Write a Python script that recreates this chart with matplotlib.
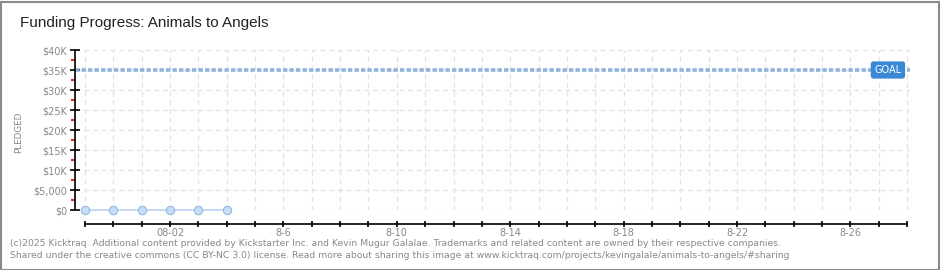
import matplotlib
matplotlib.use("Agg")
import matplotlib.pyplot as plt
from matplotlib.ticker import FixedLocator, MultipleLocator
from matplotlib.patches import Rectangle

# ---- data ----
day_index = [0, 1, 2, 3, 4, 5]          # 07-30 .. 08-04
pledged = [0, 0, 0, 0, 0, 0]
goal = 35000
axis_days = 29                           # 07-30 .. 08-28
label_days = [3, 7, 11, 15, 19, 23, 27]
label_texts = ["08-02", "8-6", "8-10", "8-14", "8-18", "8-22", "8-26"]
y_ticks = [0, 5000, 10000, 15000, 20000, 25000, 30000, 35000, 40000]
y_labels = ["$0", "$5,000", "$10K", "$15K", "$20K", "$25K", "$30K", "$35K", "$40K"]
title = "Funding Progress: Animals to Angels"
footer1 = ("(c)2025 Kicktraq. Additional content provided by Kickstarter Inc. and Kevin Mugur Galalae. "
           "Trademarks and related content are owned by their respective companies.")
footer2 = ("Shared under the creative commons (CC BY-NC 3.0) license. Read more about sharing this image at "
           "www.kicktraq.com/projects/kevingalale/animals-to-angels/#sharing")

W, H = 940, 270
fig = plt.figure(figsize=(W / 100, H / 100), dpi=100)
fig.patch.set_facecolor("white")

# frame
fig.add_artist(Rectangle((0.5 / W, 0.5 / H), 1 - 2 / W, 1 - 2 / H, transform=fig.transFigure,
                         fill=False, edgecolor="#8a8a8a", linewidth=1.5))

left, right, top, bottom = 75, 910, 50, 210
ax = fig.add_axes([left / W, 1 - bottom / H, (right - left) / W, (bottom - top) / H])
ax.set_xlim(-0.35, 29.1)
ax.set_ylim(0, 40000)

# grid
for d in range(0, axis_days + 1):
    ax.axvline(d, color="#e2e2e2", lw=0.9, ls=(0, (4, 3)), zorder=0)
for y in y_ticks:
    ax.axhline(y, color="#e2e2e2", lw=0.9, ls=(0, (4, 3)), zorder=0)

# goal
ax.axhline(goal, color="#8fb3de", lw=2.6, ls=(0, (1.2, 0.6)), zorder=2)
ax.text(28.8, goal, "GOAL", ha="right", va="center", color="white", fontsize=7,
        fontfamily="DejaVu Sans", zorder=5,
        bbox=dict(boxstyle="round,pad=0.3,rounding_size=0.2", facecolor="#3a87d6", edgecolor="#3a87d6"))

# data
ax.plot(day_index, pledged, color="#b7d3f1", lw=1.2, marker="o", markersize=6,
        markerfacecolor="#c6ddf7", markeredgecolor="#97b8dc", markeredgewidth=0.8,
        clip_on=False, zorder=4)

for s in ["top", "right"]:
    ax.spines[s].set_visible(False)
ax.spines["left"].set_color("black")
ax.spines["left"].set_linewidth(1.2)
ax.spines["left"].set_bounds(0, 40000)
ax.spines["bottom"].set_position(("outward", 10))
ax.spines["bottom"].set_bounds(0, axis_days)
ax.spines["bottom"].set_linewidth(1.2)

ax.yaxis.set_major_locator(FixedLocator(y_ticks))
ax.set_yticklabels(y_labels)
ax.yaxis.set_minor_locator(MultipleLocator(2500))
ax.tick_params(axis="y", which="major", direction="inout", length=7, width=1.2,
               colors="black", labelcolor="#888888", labelsize=7, pad=2)
ax.tick_params(axis="y", which="minor", direction="out", length=3, width=1.2, color="#dd0000")

ax.xaxis.set_major_locator(FixedLocator(range(0, axis_days + 1)))
ax.set_xticklabels([label_texts[label_days.index(d)] if d in label_days else ""
                    for d in range(0, axis_days + 1)])
ax.tick_params(axis="x", which="major", direction="inout", length=5, width=1.2,
               colors="black", labelcolor="#888888", labelsize=7, pad=0.5)

fig.text(19 / W, 1 - 132 / H, "PLEDGED", rotation=90, ha="center", va="center",
         color="#888888", fontsize=6.3, fontfamily="DejaVu Sans")

fig.text(20 / W, 1 - 23 / H, title, ha="left", va="center", color="#222222",
         fontsize=11, fontfamily="Liberation Sans")

fig.text(10 / W, 1 - 243 / H, footer1, ha="left", va="center", color="#888888",
         fontsize=6.65, fontfamily="DejaVu Sans")
fig.text(10 / W, 1 - 256 / H, footer2, ha="left", va="center", color="#888888",
         fontsize=6.65, fontfamily="DejaVu Sans")

fig.savefig("out.png", dpi=100)
